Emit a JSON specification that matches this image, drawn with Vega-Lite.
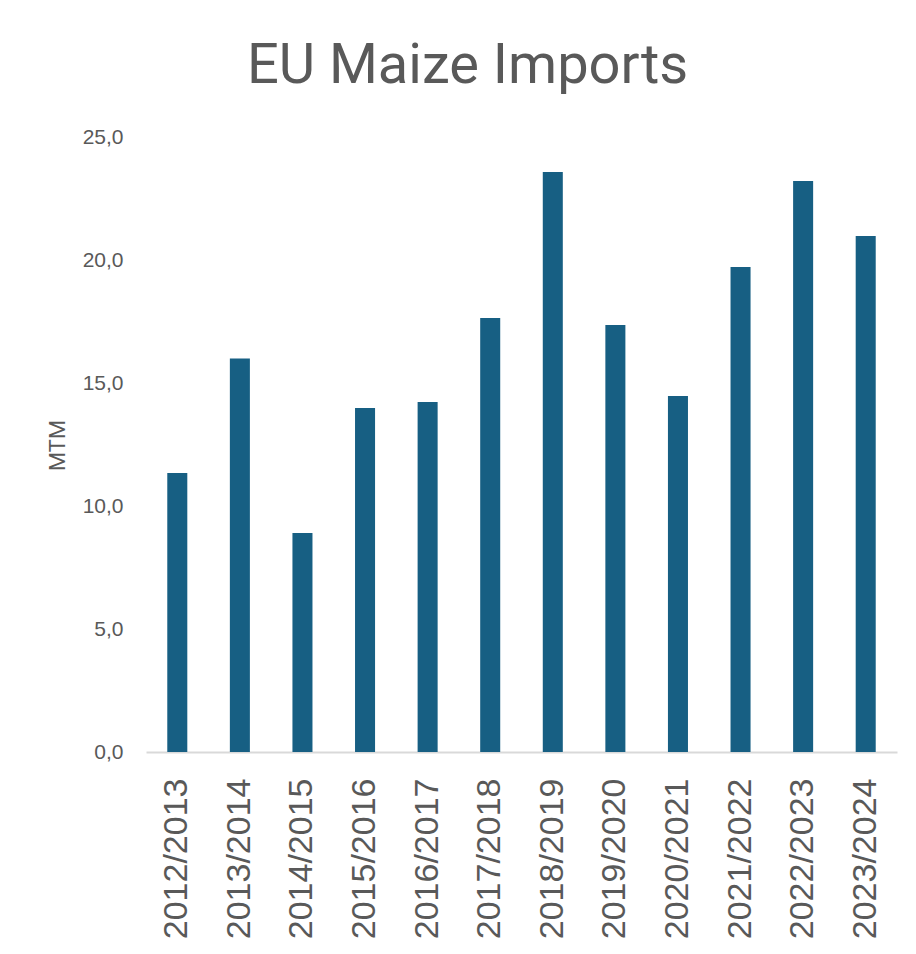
{
  "$schema": "https://vega.github.io/schema/vega-lite/v6.json",
  "width": 751,
  "height": 615,
  "autosize": {"type": "none"},
  "padding": {"left": 146, "top": 137, "right": 19, "bottom": 202},
  "background": "white",
  "title": {
    "text": "EU Maize Imports",
    "font": "Roboto",
    "fontSize": 56,
    "fontWeight": "normal",
    "color": "#595959",
    "anchor": "middle",
    "dx": -54,
    "offset": -25,
    "baseline": "bottom"
  },
  "data": {
    "values": [
      {"season": "2012/2013", "imports": 11.34},
      {"season": "2013/2014", "imports": 16.0},
      {"season": "2014/2015", "imports": 8.9},
      {"season": "2015/2016", "imports": 13.98},
      {"season": "2016/2017", "imports": 14.23},
      {"season": "2017/2018", "imports": 17.64},
      {"season": "2018/2019", "imports": 23.58},
      {"season": "2019/2020", "imports": 17.36},
      {"season": "2020/2021", "imports": 14.47},
      {"season": "2021/2022", "imports": 19.72},
      {"season": "2022/2023", "imports": 23.21},
      {"season": "2023/2024", "imports": 20.98}
    ]
  },
  "mark": {"type": "bar", "color": "#175f83"},
  "encoding": {
    "x": {
      "field": "season",
      "type": "nominal",
      "sort": null,
      "scale": {"paddingInner": 0.68, "paddingOuter": 0.34},
      "axis": {
        "title": null,
        "labelAngle": 270,
        "labelAlign": "right",
        "labelBaseline": "middle",
        "labelFont": "Liberation Sans",
        "labelFontSize": 34,
        "labelColor": "#595959",
        "labelPadding": 26,
        "ticks": false,
        "domainColor": "#d9d9d9",
        "domainWidth": 2,
        "grid": false
      }
    },
    "y": {
      "field": "imports",
      "type": "quantitative",
      "scale": {"domain": [0, 25], "nice": false},
      "axis": {
        "title": "MTM",
        "titleFont": "Roboto",
        "titleFontSize": 22,
        "titleFontWeight": "normal",
        "titleColor": "#595959",
        "titleX": -89,
        "titleY": 308,
        "titleAlign": "center",
        "titleBaseline": "middle",
        "values": [0, 5, 10, 15, 20, 25],
        "labelExpr": "replace(format(datum.value, '.1f'), '.', ',')",
        "labelFont": "Liberation Sans",
        "labelFontSize": 21,
        "labelColor": "#595959",
        "labelPadding": 23,
        "ticks": false,
        "domain": false,
        "grid": false
      }
    }
  },
  "config": {"view": {"stroke": null}}
}
